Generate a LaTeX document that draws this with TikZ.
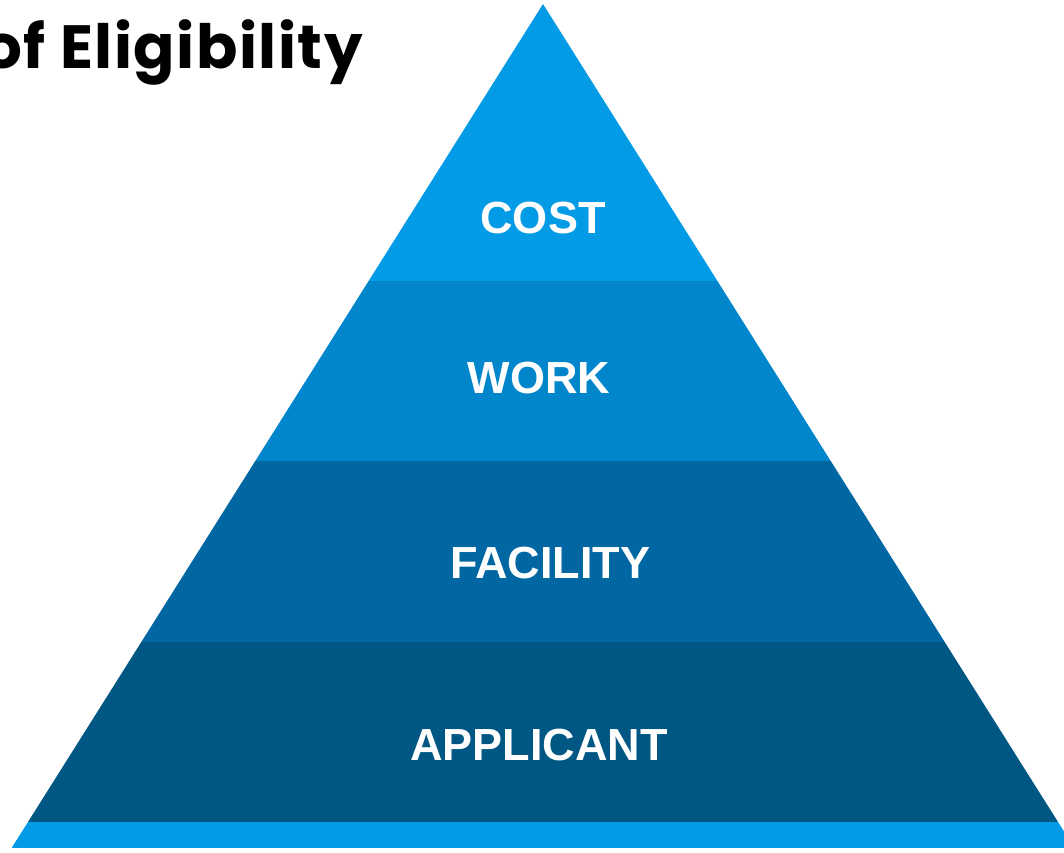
\documentclass[tikz,border=0pt]{standalone}
\usepackage{fontspec}
\setmainfont{Liberation Sans}
\newfontfamily\titlefont{Poppins}[LetterSpace=2.5]
\definecolor{costblue}{RGB}{3,155,229}
\definecolor{workblue}{RGB}{1,134,204}
\definecolor{facilityblue}{RGB}{1,103,163}
\definecolor{applicantblue}{RGB}{1,87,132}
\tikzset{
  tier/.style={text=white, inner sep=0pt, font=\fontsize{45}{54}\selectfont\bfseries},
  heading/.style={inner sep=0pt, font=\titlefont\fontsize{61}{72}\selectfont\bfseries}
}
\begin{document}
\begin{tikzpicture}[x=1pt,y=-1pt]
  \useasboundingbox (0,0) rectangle (1064,852);
  \clip (0,0) rectangle (1064,852);
  \begin{scope}
    \clip (543,4) -- (1074.4,848) -- (11.6,848) -- cycle;
    \fill[costblue] (0,0) rectangle (1064,281);
    \fill[workblue] (0,281) rectangle (1064,461);
    \fill[facilityblue] (0,461) rectangle (1064,642);
    \fill[applicantblue] (0,642) rectangle (1064,822);
    \fill[costblue] (0,822) rectangle (1064,848);
  \end{scope}
  \node[tier] (cost) at (543,218) {COST};
  \node[tier] (work) at (539,378) {WORK};
  \node[tier] (facility) at (550,563) {FACILITY};
  \node[tier] (applicant) at (539,745) {APPLICANT};
  \node[heading, anchor=base east] (title) at (363,68) {of Eligibility};
\end{tikzpicture}
\end{document}
